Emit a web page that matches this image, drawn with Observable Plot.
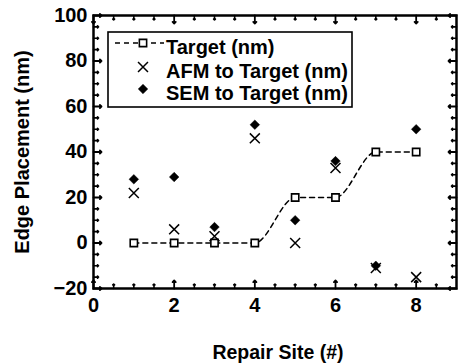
<!DOCTYPE html>
<html>
<head>
<meta charset="utf-8">
<script src="https://cdn.jsdelivr.net/npm/d3@7"></script>
<script src="https://cdn.jsdelivr.net/npm/@observablehq/plot@0.6"></script>
<style>
  html, body { margin: 0; padding: 0; background: #fff; }
  svg { display: block; }
</style>
</head>
<body>
<div id="chart"></div>
<script>
// ---- data ----
const sites = [1, 2, 3, 4, 5, 6, 7, 8];
const target = [0, 0, 0, 0, 20, 20, 40, 40];
const afm = [22, 6, 3, 46, 0, 33, -11, -15];
const sem = [28, 29, 7, 52, 10, 36, -10, 50];
const xTicks = [0, 2, 4, 6, 8];
const xMinor = [0.5, 1, 1.5, 2.5, 3, 3.5, 4.5, 5, 5.5, 6.5, 7, 7.5, 8.5];
const yTicks = [-20, 0, 20, 40, 60, 80, 100];
const yMinor = [-15, -10, -5, 5, 10, 15, 25, 30, 35, 45, 50, 55, 65, 70, 75, 85, 90, 95];
const seriesNames = ["Target (nm)", "AFM to Target (nm)", "SEM to Target (nm)"];
const xLabel = "Repair Site (#)";
const yLabel = "Edge Placement (nm)";

const targetData = sites.map((s, i) => ({x: s, y: target[i]}));
const afmData = sites.map((s, i) => ({x: s, y: afm[i]}));
const semData = sites.map((s, i) => ({x: s, y: sem[i]}));

const FONT = "'Liberation Sans', Arial, Helvetica, sans-serif";
const fs = 20;

function edgeTicks(values, axis, len, sw) {
  const marks = [];
  if (axis === "x") {
    marks.push(Plot.vector(values, {x: d => d, frameAnchor: "bottom", length: len, rotate: 0, anchor: "start", stroke: "black", strokeWidth: sw}));
    marks.push(Plot.vector(values, {x: d => d, frameAnchor: "top", length: len, rotate: 180, anchor: "start", stroke: "black", strokeWidth: sw}));
  } else {
    marks.push(Plot.vector(values, {y: d => d, frameAnchor: "left", length: len, rotate: 90, anchor: "start", stroke: "black", strokeWidth: sw}));
    marks.push(Plot.vector(values, {y: d => d, frameAnchor: "right", length: len, rotate: -90, anchor: "start", stroke: "black", strokeWidth: sw}));
  }
  return marks;
}

const chart = Plot.plot({
  width: 458,
  height: 364,
  marginLeft: 93,
  marginRight: 2,
  marginTop: 15,
  marginBottom: 76,
  style: {fontFamily: FONT, background: "white", overflow: "visible"},
  x: {domain: [0, 9]},
  y: {domain: [-20, 100]},
  marks: [
    Plot.axisX(xTicks, {tickSize: 0, tickPadding: 9, fontSize: fs, fontWeight: "bold", fill: "black", label: null}),
    Plot.axisY(yTicks, {tickSize: 0, tickPadding: 6, fontSize: fs, fontWeight: "bold", fill: "black", label: null}),
    ...edgeTicks(xTicks, "x", 8, 1.8),
    ...edgeTicks(xMinor, "x", 4.5, 1.6),
    ...edgeTicks(yTicks, "y", 8, 1.8),
    ...edgeTicks(yMinor, "y", 5, 1.6),
    Plot.frame({stroke: "black", strokeWidth: 2.5}),
    Plot.line(targetData, {x: "x", y: "y", curve: "monotone-x", stroke: "black", strokeWidth: 1.5, strokeDasharray: "5,4"}),
    Plot.dot(targetData, {x: "x", y: "y", symbol: "square", r: 4.1, fill: "white", stroke: "black", strokeWidth: 1.6}),
    Plot.dot(afmData, {x: "x", y: "y", symbol: "times", r: 4.6, stroke: "black", strokeWidth: 1.5}),
    Plot.dot(semData, {x: "x", y: "y", symbol: "diamond2", r: 4.3, fill: "black", stroke: "black", strokeWidth: 0.5}),
    Plot.text([xLabel], {frameAnchor: "bottom", dy: 64, dx: 3, textAnchor: "middle", lineAnchor: "middle", text: d => d, fontSize: 19.5, fontWeight: "bold", fill: "black"}),
    Plot.text([yLabel], {frameAnchor: "left", dx: -71, textAnchor: "middle", lineAnchor: "middle", rotate: -90, text: d => d, fontSize: fs, fontWeight: "bold", fill: "black"})
  ]
});

document.getElementById("chart").appendChild(chart);

// ---- legend (inside plot, top-left) ----
const svg = d3.select(chart);
const lg = svg.append("g").attr("transform", "translate(108,32)").attr("text-anchor", "start");
lg.append("rect").attr("width", 244).attr("height", 75)
  .attr("fill", "white").attr("stroke", "black").attr("stroke-width", 1.6);
const rowY = [11, 35, 57];
const symX = 35;
seriesNames.forEach((name, i) => {
  const y = rowY[i];
  if (i === 0) {
    lg.append("line").attr("x1", 7).attr("x2", 56).attr("y1", y).attr("y2", y)
      .attr("stroke", "black").attr("stroke-width", 1.5).attr("stroke-dasharray", "5,4");
    lg.append("path").attr("d", d3.symbol(d3.symbolSquare, Math.PI * 4.1 * 4.1)())
      .attr("transform", `translate(${symX},${y})`).attr("fill", "white")
      .attr("stroke", "black").attr("stroke-width", 1.6);
  } else if (i === 1) {
    lg.append("path").attr("d", d3.symbol(d3.symbolTimes, Math.PI * 4.6 * 4.6)())
      .attr("transform", `translate(${symX},${y})`).attr("fill", "none")
      .attr("stroke", "black").attr("stroke-width", 1.5);
  } else {
    lg.append("path").attr("d", d3.symbol(d3.symbolDiamond2, Math.PI * 4.3 * 4.3)())
      .attr("transform", `translate(${symX},${y})`).attr("fill", "black")
      .attr("stroke", "black").attr("stroke-width", 0.5);
  }
  lg.append("text").attr("x", 58).attr("y", y + 11)
    .attr("text-anchor", "start")
    .attr("font-family", FONT).attr("font-size", fs).attr("font-weight", "bold")
    .attr("fill", "black").text(name);
});
</script>
</body>
</html>
